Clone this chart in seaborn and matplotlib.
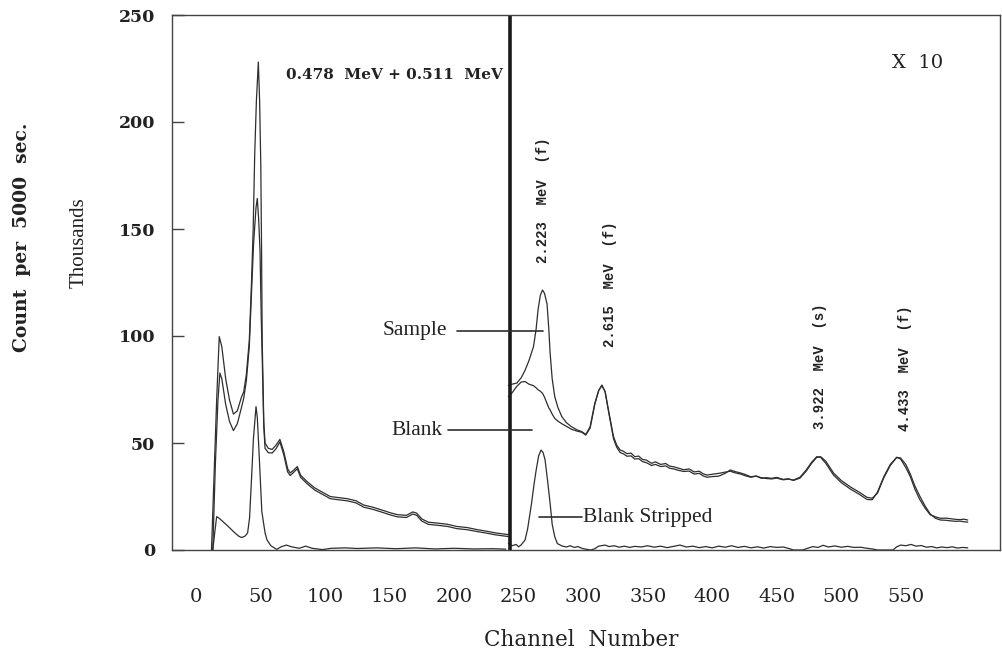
import matplotlib
matplotlib.use("Agg")
import matplotlib.pyplot as plt
import seaborn as sns

# ---------------- data ----------------
x_ticks = [0, 50, 100, 150, 200, 250, 300, 350, 400, 450, 500, 550]
y_ticks = [0, 50, 100, 150, 200, 250]

# left part (true scale), channel / thousands of counts
sample_left_ch = [12, 14, 16, 18, 20, 23, 26, 29, 32, 35, 37, 39, 41.3, 43, 44.3,
                  45.5, 46.8, 48.3, 49.3, 50.2, 50.8, 51.3, 52.5, 53.5, 56, 59, 62, 65, 68, 71,
                  73, 76, 78.5, 81, 86, 92, 98, 104, 110, 117, 124, 130, 137, 145, 150,
                  156, 163, 168, 171, 175, 180, 188, 195, 202, 210, 218, 225, 232, 238, 242]
sample_left_val = [0, 35, 70, 99.7, 95, 80, 70, 63.5, 65, 71, 74, 82, 98, 125, 150,
                   185, 210, 228, 210, 180, 140, 98, 60, 50, 47.5, 47, 49, 51.7, 46, 38,
                   36, 37.5, 39, 35, 32, 29, 27, 25, 24.5, 24, 23, 21, 20, 18.5, 17.5,
                   16.5, 16.2, 17.8, 17.2, 14.5, 13, 12.5, 12, 11, 10.5, 9.5, 8.8, 8, 7.5, 7.2]

blank_left_ch = [13, 15, 17, 18.5, 20, 23, 26, 29, 32, 35, 37, 39, 41.3, 43, 44.6,
                 46.5, 47.5, 48.5, 49.6, 50.5, 51.3, 52.5, 53.5, 56, 59, 62, 65, 68, 71, 73,
                 76, 78.5, 81, 86, 92, 98, 104, 110, 117, 124, 130, 137, 145, 150, 156,
                 163, 168, 171, 175, 180, 188, 195, 202, 210, 218, 225, 232, 238, 242]
blank_left_val = [0, 40, 70, 82.7, 80, 68, 60, 55.8, 59, 66, 71, 79, 95, 120, 143,
                  160, 164.3, 155, 140, 110, 90, 58, 47.5, 45.5, 45.3, 47.3, 50.5, 44.5, 36.5, 34.8,
                  36.5, 38, 34, 31, 28, 26, 24, 23.5, 23, 22, 20, 19, 17.5, 16.5, 15.5,
                  15.2, 16.8, 16.2, 13.5, 12, 11.5, 11, 10, 9.5, 8.6, 7.9, 7.1, 6.6, 6.3]

stripped_left_ch = [13, 14.5, 16, 18, 21, 25, 29, 33, 35.4, 38, 40, 41.5, 43, 44.5, 46.5,
                    47.5, 48.5, 49.6, 51, 53.5, 55, 58, 62.5, 66, 70, 74, 80, 85, 90, 98,
                    105, 116, 125, 140, 155, 170, 185, 200, 215, 230, 240]
stripped_left_val = [0, 8, 15.6, 14.8, 13.2, 11, 8.6, 6.5, 5.8, 6.5, 8, 15, 33, 52, 67,
                     62, 50, 36, 18, 8, 4.7, 2, 0.3, 1.5, 2.3, 1.5, 0.8, 1.8, 0.8, 0.2,
                     0.8, 1.0, 0.7, 1.0, 0.6, 1.0, 0.5, 0.8, 0.5, 0.6, 0.4]

# right part (shown X 10)
right_ch = [242, 245, 248.6, 252, 255, 258, 261.5, 263.5, 265, 266.8,
            268.5, 270, 272, 273.3, 274.4, 276, 278, 280.5, 283.5, 287,
            291, 295, 299, 302, 305.4, 309, 312, 314.5, 317, 319.6,
            323.5, 326, 328.7, 331, 334, 337, 340, 343, 346, 349,
            353, 356, 360, 364, 367, 370, 374, 378, 382, 386,
            390, 393, 396, 400, 405, 410, 414, 418, 422, 426,
            430, 434, 438, 442, 446, 450, 455, 459, 463, 468,
            473, 477, 481, 484, 488, 494, 500, 507, 514, 520,
            524, 528, 533, 538, 543, 546, 550, 553.5, 557, 561,
            565, 569, 573, 577, 581, 585, 589, 592, 595, 598]
sample_right_val = [77, 77.5, 78, 80.5, 84, 88.5, 95, 103, 112, 119,
                    121.5, 120, 115, 104, 92, 80, 71.6, 66.5, 62.3, 59.5,
                    57.6, 56.2, 55.3, 54, 57.6, 68.5, 74.5, 77.1, 74, 65.4,
                    53, 49, 46.7, 46.2, 45, 45.3, 43.6, 43.9, 42.3, 42.0,
                    40.5, 41.2, 40, 40.4, 39.2, 38.9, 38.2, 37.5, 37.9, 36.5,
                    36.8, 35.6, 35, 35.4, 35.8, 36.4, 36.8, 36.0, 35.5, 34.6,
                    34, 34.5, 33.8, 33.4, 33.2, 33.6, 32.8, 33.1, 32.7, 34,
                    37.5, 41, 43.6, 43.3, 40.5, 35, 31.5, 28.5, 26, 23.6,
                    23.5, 27, 34.3, 40, 43.3, 42.5, 38.5, 34.3, 28.5, 23.4,
                    19.5, 16.4, 15.5, 14.8, 14.9, 14.6, 14.3, 14.2, 14.4, 14.0]
blank_right_val = [71.6, 73.5, 76.5, 78.5, 78.7, 77.5, 76.8, 75.8, 74.9, 74.2,
                   73.2, 71.5, 68.5, 66.5, 65.5, 63.5, 61.5, 60.2, 59, 57.8,
                   56.4, 55.6, 55.0, 53.7, 57, 68, 74.5, 76.8, 74, 65,
                   52, 48, 45.5, 45.0, 43.8, 44.0, 42.5, 42.7, 41.3, 40.8,
                   39.5, 40.0, 39, 39.3, 38.2, 37.9, 37.2, 36.7, 36.9, 35.5,
                   35.8, 34.6, 34.0, 34.3, 34.5, 35.8, 37.4, 36.6, 36, 35.2,
                   34.2, 34.6, 33.5, 33.8, 33.5, 33.9, 33.0, 33.3, 32.5, 33.6,
                   37, 40.5, 43.3, 43.6, 41.5, 36, 32.5, 29.5, 27, 24.6,
                   24.2, 26.5, 33.8, 39.5, 43.3, 43, 40, 35.5, 30, 25,
                   20.5, 16.8, 14.8, 14, 13.9, 13.6, 13.4, 13.5, 13.2, 13.0]

stripped_right_ch = [242, 245, 248, 250, 252, 255, 257, 260, 262, 263.5,
                     265.5, 267.4, 269, 270.5, 272.5, 274.4, 276, 278, 280, 283.5,
                     287, 290, 293, 296, 299, 301, 306, 309, 312, 317,
                     320, 324, 328, 332, 336, 340, 345, 350, 355, 360,
                     365, 370, 375, 380, 385, 390, 395, 400, 405, 410,
                     415, 420, 425, 430, 435, 440, 445, 450, 455, 460,
                     463, 470, 474, 478, 482, 486, 490, 495, 500, 505,
                     510, 515, 520, 525, 528, 540, 543, 546, 550, 554,
                     558, 562, 566, 570, 574, 578, 582, 586, 590, 594, 598]
stripped_right_val = [3.1, 2.0, 2.6, 1.5, 2.4, 4.7, 10, 21.8, 31, 37,
                      44, 46.7, 45.5, 42, 32, 21.8, 12, 6.2, 3.0, 1.9,
                      1.4, 2.0, 1.2, 1.6, 0.8, 0.5, 0.0, 0.6, 1.8, 2.3,
                      1.6, 2.0, 1.3, 1.8, 1.2, 1.7, 1.4, 2.0, 1.3, 1.8,
                      1.1, 1.7, 2.3, 1.4, 1.8, 1.1, 1.6, 1.0, 1.8, 1.3,
                      2.0, 1.2, 1.7, 1.0, 1.5, 0.9, 1.6, 1.2, 1.4, 0.6,
                      0.0, 0.0, 0.8, 1.6, 1.2, 2.2, 1.4, 1.9, 1.3, 1.7,
                      1.2, 1.3, 0.8, 0.4, 0.0, 0.0, 1.5, 2.3, 2.0, 2.6,
                      1.8, 2.1, 1.3, 1.6, 1.0, 1.4, 1.1, 1.5, 0.9, 1.2, 1.0]

split_channel = 243.4
peak_labels = ["2.223  MeV  (f)", "2.615  MeV  (f)", "3.922  MeV  (s)", "4.433  MeV  (f)"]
peak_label_x = [269, 321, 483.7, 549.6]
peak_label_y = [163.6, 124.3, 85.8, 85.0]

# ---------------- drawing ----------------
sns.set_theme(style="white")
plt.rcParams["font.family"] = ["DejaVu Serif"]

W, H = 1002, 657
fig = plt.figure(figsize=(W / 100, H / 100), dpi=100)
ax = fig.add_axes([172 / W, 1 - 550 / H, (1000 - 172) / W, (550 - 15) / H])

LINE = "#2e2e2e"
for xs, ys in [(sample_left_ch, sample_left_val), (blank_left_ch, blank_left_val),
               (stripped_left_ch, stripped_left_val), (right_ch, sample_right_val),
               (right_ch, blank_right_val), (stripped_right_ch, stripped_right_val)]:
    sns.lineplot(x=xs, y=ys, ax=ax, color=LINE, linewidth=0.9, estimator=None, sort=False)

ax.axvline(split_channel, color="#1a1a1a", linewidth=2.6)

ax.set_xlim(-18.6, 623)
ax.set_ylim(0, 250)
ax.set_xticks(x_ticks)
ax.set_yticks(y_ticks)
ax.set_xticklabels([str(v) for v in x_ticks], fontsize=14, color="#222")
ax.set_yticklabels([str(v) for v in y_ticks], fontsize=12.5, fontweight="bold", color="#222")
ax.tick_params(axis="x", length=0, pad=27)
ax.tick_params(axis="y", direction="in", length=8.5, width=1, color="#444", pad=12, left=True)
for s in ax.spines.values():
    s.set_visible(True)
    s.set_color("#444")
    s.set_linewidth(1.0)
ax.grid(False)

# labels
fig.text(581 / W, 1 - 640 / H, "Channel  Number", ha="center", va="center",
         fontsize=15.5, color="#222")
fig.text(22 / W, 1 - 237 / H, "Count  per  5000  sec.", rotation=90, ha="center",
         va="center", fontsize=13.5, fontweight="bold", color="#222")
fig.text(79 / W, 1 - 243 / H, "Thousands", rotation=90, ha="center", va="center",
         fontsize=15, family=["Liberation Serif"], color="#222")

# annotations
ax.text(69.8, 222, "0.478  MeV + 0.511  MeV", ha="left", va="center", fontsize=11,
        fontweight="bold", color="#222")
ax.text(559, 227.6, "X  10", ha="center", va="center", fontsize=14, color="#222")
for t, xx, yy in zip(peak_labels, peak_label_x, peak_label_y):
    ax.text(xx, yy, t, rotation=90, ha="center", va="center", fontsize=10,
            family=["Liberation Mono"], fontweight="bold", color="#222")

ax.text(194.6, 102.8, "Sample", ha="right", va="center", fontsize=15.5,
        family=["Liberation Serif"], color="#222")
ax.plot([202, 269], [102.3, 102.3], color=LINE, linewidth=1.2)
ax.text(190.7, 56, "Blank", ha="right", va="center", fontsize=15.5,
        family=["Liberation Serif"], color="#222")
ax.plot([195.3, 260.5], [56.3, 56.3], color=LINE, linewidth=1.2)
ax.text(300, 15.4, "Blank Stripped", ha="left", va="center", fontsize=15.5,
        family=["Liberation Serif"], color="#222")
ax.plot([266, 299], [15.6, 15.6], color=LINE, linewidth=1.2)

fig.savefig("out.png", dpi=100, facecolor="white")
